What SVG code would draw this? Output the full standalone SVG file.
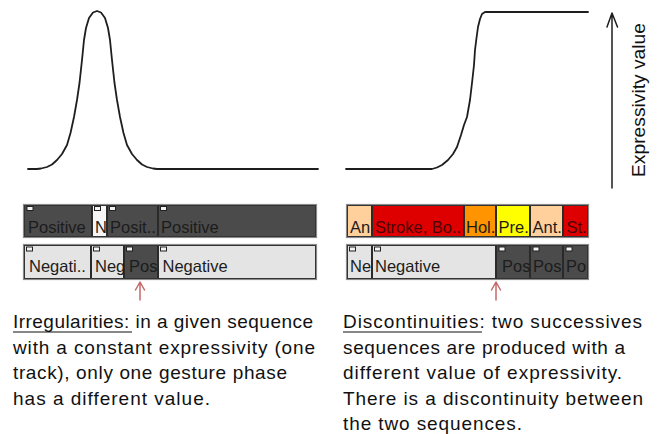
<svg xmlns="http://www.w3.org/2000/svg" width="662" height="434" viewBox="0 0 662 434">
<style>
.curve{fill:none;stroke:#1e1e1e;stroke-width:1.8;stroke-linejoin:round;stroke-linecap:round}
.seg{stroke:#2a2a2a;stroke-width:1}
.dark{fill:#4b4b4b}
.light{fill:#e4e4e4}
.white{fill:#f6f6f6}
.peach{fill:#ffcf9c}
.red{fill:#de0000}
.orange{fill:#ff9400}
.yellow{fill:#ffff00}
.lbl{font-family:"Liberation Sans",Arial,sans-serif;font-size:16.5px;fill:#1c1c1c}
.lblr{font-family:"Liberation Sans",Arial,sans-serif;font-size:16.5px;fill:#4a0000}
.frame{fill:none;stroke:#8a8a8a;stroke-width:1.2}
.sq{fill:#f2f2f2;stroke:#222;stroke-width:1}
.body{font-family:"Liberation Sans",Arial,sans-serif;font-size:19px;fill:#111}
.ul{stroke:#111;stroke-width:1.2}
.marker{fill:none;stroke:#c56a6a;stroke-width:1.5;stroke-linecap:round;stroke-linejoin:round}
.axis{fill:none;stroke:#1e1e1e;stroke-width:1.5;stroke-linecap:round;stroke-linejoin:round}
</style>

<g id="curve-irregularity">
<path class="curve" d="M28 169 L37 169 L41 168.5 L47 167 L52 164.5 L57 160 L62 154 L67 145 L70.5 133 L74 117 L77 100 L79.5 83 L82 60 L84 40 L86 28 L89 18 L93 12.5 L97 11 L101 12.5 L105 18 L108 28 L110 40 L112 60 L114.5 83 L117 100 L120 117 L123.5 133 L127 145 L132 154 L137 160 L142 164.5 L147 167 L153 168.5 L157 169 L318 169"/>
</g>
<g id="curve-discontinuity">
<path class="curve" d="M346 169 L432 169 L437 167.5 L442 165 L448 160 L453 154 L457 147 L461 135 L464 125 L467 117 L470 100 L472 83 L474 65 L475 50 L476.5 38 L478 27 L480 19 L482 14 L485 12 L588 12"/>
</g>

<g id="axis">
<text class="body" font-size="17" transform="translate(645,100) rotate(-90)" text-anchor="middle" textLength="154" lengthAdjust="spacingAndGlyphs">Expressivity value</text>
</g>

<g id="track-left-1">
<svg x="24" y="205" width="68" height="32"><rect class="seg dark" x="0.5" y="0.5" width="67" height="31"/><rect class="sq" x="3" y="1.5" width="6" height="4"/><text class="lbl" x="4" y="28">Positive</text></svg>
<svg x="92" y="205" width="15" height="32"><rect class="seg white" x="0.5" y="0.5" width="14" height="31"/><rect class="sq" x="2.5" y="1.5" width="6" height="4"/><text class="lbl" x="3" y="28">N</text></svg>
<svg x="107" y="205" width="51" height="32"><rect class="seg dark" x="0.5" y="0.5" width="50" height="31"/><rect class="sq" x="2.5" y="1.5" width="6" height="4"/><text class="lbl" x="3" y="28">Posit..</text></svg>
<svg x="158" y="205" width="158" height="32"><rect class="seg dark" x="0.5" y="0.5" width="157" height="31"/><rect class="sq" x="2.5" y="1.5" width="6" height="4"/><text class="lbl" x="3" y="28">Positive</text></svg>
<rect class="frame" x="23.5" y="204.5" width="293" height="33"/>
</g>

<g id="track-left-2">
<svg x="24" y="245" width="67" height="34"><rect class="seg light" x="0.5" y="0.5" width="66" height="33"/><rect class="sq" x="2.5" y="2" width="6" height="4"/><text class="lbl" x="5" y="27">Negati..</text></svg>
<svg x="91" y="245" width="33" height="34"><rect class="seg light" x="0.5" y="0.5" width="32" height="33"/><rect class="sq" x="2.5" y="2" width="6" height="4"/><text class="lbl" x="4" y="27">Neg</text></svg>
<svg x="124" y="245" width="34" height="34"><rect class="seg dark" x="0.5" y="0.5" width="33" height="33"/><rect class="sq" x="2.5" y="2" width="6" height="4"/><text class="lbl" x="5" y="27">Pos</text></svg>
<svg x="158" y="245" width="158" height="34"><rect class="seg light" x="0.5" y="0.5" width="157" height="33"/><rect class="sq" x="2.5" y="2" width="6" height="4"/><text class="lbl" x="4.5" y="27">Negative</text></svg>
<rect class="frame" x="23.5" y="244.5" width="293" height="35"/>
</g>

<g id="track-right-1">
<svg x="347" y="205" width="25" height="32"><rect class="seg peach" x="0.5" y="0.5" width="24" height="31"/><text class="lbl" x="3" y="28">An</text></svg>
<svg x="372" y="205" width="92" height="32"><rect class="seg red" x="0.5" y="0.5" width="91" height="31"/><text class="lblr" x="3" y="28">Stroke, Bo..</text></svg>
<svg x="464" y="205" width="32" height="32"><rect class="seg orange" x="0.5" y="0.5" width="31" height="31"/><text class="lbl" x="2" y="28" fill="#3a2000">Hol.</text></svg>
<svg x="496" y="205" width="34" height="32"><rect class="seg yellow" x="0.5" y="0.5" width="33" height="31"/><text class="lbl" x="2.5" y="28">Pre.</text></svg>
<svg x="530" y="205" width="33" height="32"><rect class="seg peach" x="0.5" y="0.5" width="32" height="31"/><text class="lbl" x="2.5" y="28">Ant.</text></svg>
<svg x="563" y="205" width="25" height="32"><rect class="seg red" x="0.5" y="0.5" width="24" height="31"/><text class="lblr" x="3.5" y="28">St.</text></svg>
<rect class="frame" x="346.5" y="204.5" width="242" height="33"/>
</g>

<g id="track-right-2">
<svg x="347" y="245" width="25" height="34"><rect class="seg light" x="0.5" y="0.5" width="24" height="33"/><rect class="sq" x="2.5" y="2" width="6" height="4"/><text class="lbl" x="3" y="27">Ne</text></svg>
<svg x="372" y="245" width="124" height="34"><rect class="seg light" x="0.5" y="0.5" width="123" height="33"/><rect class="sq" x="2.5" y="2" width="6" height="4"/><text class="lbl" x="3" y="27">Negative</text></svg>
<svg x="496" y="245" width="34" height="34"><rect class="seg dark" x="0.5" y="0.5" width="33" height="33"/><rect class="sq" x="3" y="2" width="6" height="4"/><text class="lbl" x="6" y="27">Pos</text></svg>
<svg x="530" y="245" width="33" height="34"><rect class="seg dark" x="0.5" y="0.5" width="32" height="33"/><rect class="sq" x="3" y="2" width="6" height="4"/><text class="lbl" x="3" y="27">Pos</text></svg>
<svg x="563" y="245" width="25" height="34"><rect class="seg dark" x="0.5" y="0.5" width="24" height="33"/><rect class="sq" x="3" y="2" width="6" height="4"/><text class="lbl" x="3" y="27">Po</text></svg>
<rect class="frame" x="346.5" y="244.5" width="242" height="35"/>
</g>

<g id="connectors">
<path class="axis" d="M612 188 L612 14 M607 27 L612 13 L617.5 27"/>
<path class="marker" d="M140 300 L140 283 M135.5 290 L140 282 L144.5 290"/>
<path class="marker" d="M496 300 L496 283 M491.5 290 L496 282 L500.5 290"/>
</g>

<g id="text-irregularities">
<text class="body" x="13" y="328" textLength="300" lengthAdjust="spacing">Irregularities: in a given sequence</text>
<line class="ul" x1="13" y1="332" x2="132" y2="332"/>
<text class="body" x="13" y="353.5" textLength="302" lengthAdjust="spacing">with a constant expressivity (one</text>
<text class="body" x="13" y="379" textLength="274" lengthAdjust="spacing">track), only one gesture phase</text>
<text class="body" x="13" y="404.5" textLength="197" lengthAdjust="spacing">has a different value.</text>
</g>

<g id="text-discontinuities">
<text class="body" x="343" y="328" textLength="299" lengthAdjust="spacing">Discontinuities: two successives</text>
<line class="ul" x1="343" y1="332" x2="482" y2="332"/>
<text class="body" x="343" y="353.5" textLength="282" lengthAdjust="spacing">sequences are produced with a</text>
<text class="body" x="343" y="379" textLength="279" lengthAdjust="spacing">different value of expressivity.</text>
<text class="body" x="343" y="404.5" textLength="300" lengthAdjust="spacing">There is a discontinuity between</text>
<text class="body" x="343" y="430" textLength="179" lengthAdjust="spacing">the two sequences.</text>
</g>
</svg>
